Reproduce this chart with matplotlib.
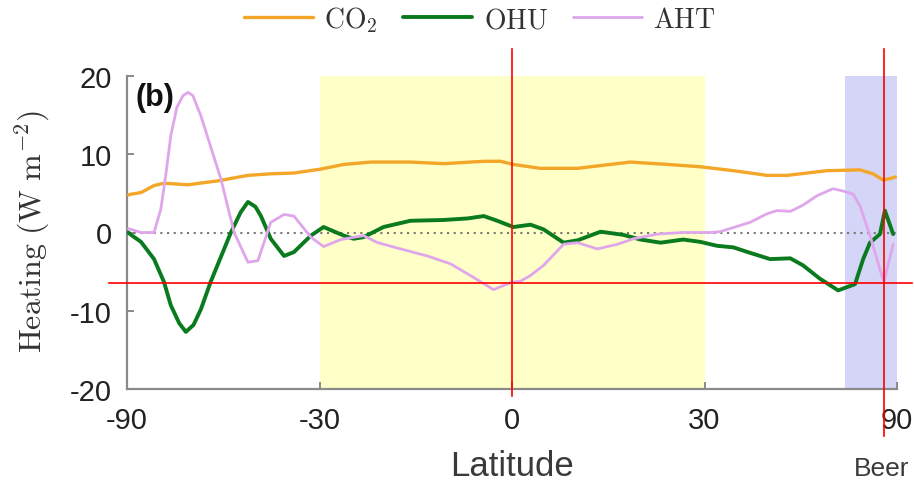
import numpy as np
import matplotlib
matplotlib.use("Agg")
import matplotlib.pyplot as plt

# ---------------- data ----------------
co2_lat = [-85, -81.7, -74.5, -68.4, -64.7, -57.3, -49.8, -43.3, -38.8, -34.5, -29.8,
           -25.9, -21.5, -15.3, -10.2, -4.2, -1.7, 0.2, 4.2, 9.8, 17.9, 23.8, 29.3,
           35.1, 41.5, 45.6, 54.9, 64.7, 69.7, 74.6, 81.9, 85]
co2_val = [4.8, 4.9, 5.1, 6.0, 6.3, 6.1, 6.6, 7.3, 7.5, 7.6, 8.1,
           8.7, 9.0, 9.0, 8.8, 9.1, 9.1, 8.7, 8.2, 8.2, 9.0, 8.7, 8.4,
           7.9, 7.3, 7.3, 7.9, 8.0, 7.5, 6.7, 7.0, 7.1]

ohu_lat = [-85, -81.7, -74.5, -68.4, -64.7, -62.4, -59.8, -57.9, -55.8, -53.9, -51.5, -46.9,
           -44.8, -43.3, -41.8, -40.7, -38.8, -36.3, -34.5, -31.5, -29.3, -25.9, -24.3,
           -22.7, -19.5, -15.3, -10.2, -6.6, -4.2, -2.2, 0.2, 2.75, 4.7, 7.7, 9.8, 13.3,
           16.8, 19.5, 22.7, 26.4, 29.3, 31.0, 32.2, 35.1, 38.2, 42.1, 46.3, 49.1, 53.1,
           57.9, 63.0, 65.8, 68.4, 72.9, 75.6, 81.9]
ohu_val = [0.0, -0.3, -1.2, -3.4, -6.3, -9.3, -11.6, -12.7, -11.8, -9.8, -6.3, 0.0,
           2.6, 3.9, 3.3, 2.1, -0.8, -3.0, -2.5, -0.4, 0.7, -0.4, -0.8,
           -0.6, 0.7, 1.5, 1.6, 1.8, 2.1, 1.5, 0.7, 1.0, 0.4, -1.3, -1.0, 0.1,
           -0.3, -0.9, -1.3, -0.9, -1.2, -1.5, -1.7, -1.9, -2.6, -3.4, -3.3, -4.2, -5.9,
           -7.4, -6.6, -3.4, -1.3, -0.2, 2.8, -0.2]

aht_lat = [-85, -81.7, -74.5, -68.4, -65.8, -64.0, -62.4, -60.5, -58.7, -57.3, -56.0,
           -53.9, -49.1, -46.2, -43.3, -41.3, -38.8, -36.3, -34.5, -31.5, -29.3, -26.4,
           -22.7, -20.4, -16.8, -12.7, -9.2, -6.2, -2.75, -0.2, 1.3, 2.75, 4.7, 7.7, 9.8,
           12.8, 15.9, 18.4, 22.2, 26.4, 31.0, 32.7, 38.2, 41.5, 43.5, 46.3, 49.1, 52.4,
           56.5, 59.3, 62.4, 64.7, 68.4, 72.9, 75.0, 81.9]
aht_val = [0.5, 0.4, 0.0, 0.0, 3.0, 7.5, 12.4, 16.0, 17.5, 17.9, 17.5,
           14.9, 6.8, 0.0, -3.8, -3.6, 1.3, 2.3, 2.1, -0.6, -1.8, -0.9,
           -0.4, -1.3, -2.1, -3.0, -4.0, -5.5, -7.3, -6.4, -6.2, -5.5, -4.2, -1.5, -1.3,
           -2.1, -1.5, -0.8, -0.2, 0.0, 0.0, 0.1, 1.3, 2.4, 2.8, 2.7, 3.5, 4.7,
           5.6, 5.3, 4.9, 3.4, -0.4, -4.7, -6.3, -1.5]

series_names = [r'$\mathrm{CO_2}$', r'$\mathrm{OHU}$', r'$\mathrm{AHT}$']
series_colors = ['#F3A627', '#0A7A1E', '#DFA6EC']
xticks = [-90, -30, 0, 30, 90]
yticks = [-20, -10, 0, 10, 20]
tropics = (-30, 30)
arctic = (60, 90)
cross_lats = [0, 75]
cross_val = -6.4

# ---------------- figure ----------------
plt.rcParams['mathtext.fontset'] = 'cm'
fig = plt.figure(figsize=(9.14, 4.85), dpi=100)
ax = fig.add_axes([127 / 914, 1 - 390 / 485, 770 / 914, 313 / 485])


def fwd(x):
    return np.sin(np.deg2rad(x))


def inv(y):
    return np.rad2deg(np.arcsin(np.clip(y, -1, 1)))


ax.set_xscale('function', functions=(fwd, inv))
ax.set_xlim(-90, 90)
ax.set_ylim(-20, 20)

ax.axvspan(*tropics, color='#FFFFC8', lw=0, zorder=0)
ax.axvspan(*arctic, color='#D5D5F8', lw=0, zorder=0)
ax.axhline(0, color='#777777', lw=1.5, ls=(0, (1, 2.2)), zorder=1)

lw = [2.4, 2.8, 2.0]
for (lat, val), name, c, w in zip([(co2_lat, co2_val), (ohu_lat, ohu_val), (aht_lat, aht_val)],
                                  series_names, series_colors, lw):
    ax.plot(lat, val, color=c, lw=w, label=name, zorder=3,
            solid_joinstyle='round', solid_capstyle='round')

for s in ['top', 'right']:
    ax.spines[s].set_visible(False)
for s in ['left', 'bottom']:
    ax.spines[s].set_color('#8a8a8a')
    ax.spines[s].set_linewidth(1.6)

ax.set_xticks(xticks)
ax.set_xticklabels([str(t) for t in xticks])
ax.set_yticks(yticks)
ax.set_yticklabels([str(t) for t in yticks])
ax.minorticks_off()
ax.tick_params(direction='in', length=5, width=1.4, color='#8a8a8a',
               labelsize=21, labelcolor='#222222')
ax.tick_params(axis='x', pad=12)
ax.tick_params(axis='y', pad=11)
for lab in ax.get_xticklabels() + ax.get_yticklabels():
    lab.set_fontfamily('Liberation Sans')

ax.set_ylabel(r'$\mathrm{Heating\ (W\ m^{-2})}$', fontsize=23, color='#333333')
ax.yaxis.set_label_coords(-0.097, 0.505)

ax.text(0.011, 0.98, '(b)', transform=ax.transAxes, ha='left', va='top',
        fontsize=22, fontweight='bold', family='Liberation Sans', color='#111111')

fig.text(512 / 914, 1 - 467 / 485, 'Latitude', ha='center', va='center',
         fontsize=25, family='Liberation Sans', color='#3a3a3a')
fig.text(854 / 914, 1 - 469 / 485, 'Beer', ha='left', va='center',
         fontsize=19, family='Liberation Sans', color='#3a3a3a')

leg = fig.legend(loc='center', bbox_to_anchor=(480 / 914, 1 - 20 / 485), ncol=3,
                 frameon=False, fontsize=20, handlelength=2.5, handletextpad=0.4,
                 columnspacing=0.9, borderpad=0)
for t in leg.get_texts():
    t.set_color('#333333')

# red crosshair overlay
ax.axvline(cross_lats[0], ymin=-0.022, ymax=1.086, color='red', lw=1.2, clip_on=False, zorder=10)
ax.axvline(cross_lats[1], ymin=-0.150, ymax=1.086, color='red', lw=1.2, clip_on=False, zorder=10)
ax.axhline(cross_val, xmin=-0.023, xmax=1.02, color='red', lw=1.2, clip_on=False, zorder=10)

fig.savefig('out.png', dpi=100)
